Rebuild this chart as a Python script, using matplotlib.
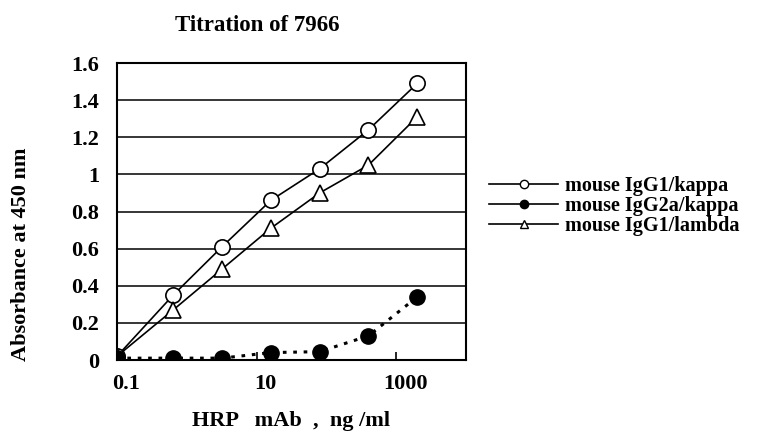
import matplotlib.pyplot as plt
from matplotlib.lines import Line2D
from matplotlib.transforms import ScaledTranslation

# concentrations (ng/ml), 5-fold dilutions
conc = [0.1, 0.64, 3.2, 16, 80, 400, 2000]
igg1_kappa = [0.02, 0.35, 0.61, 0.86, 1.03, 1.24, 1.49]
igg2a_kappa = [0.01, 0.01, 0.01, 0.04, 0.045, 0.13, 0.34]
igg1_lambda = [0.02, 0.27, 0.49, 0.71, 0.90, 1.05, 1.31]
labels = ["mouse IgG1/kappa", "mouse IgG2a/kappa", "mouse IgG1/lambda"]

plt.rcParams['font.family'] = ['Liberation Serif', 'DejaVu Serif']
plt.rcParams['font.weight'] = 'bold'

fig = plt.figure(figsize=(7.67, 4.37), dpi=100)
ax = fig.add_axes([0.1525, 0.1762, 0.4551, 0.6796])

ax.plot(conc, igg1_kappa, color="black", lw=1.2, marker="o", ms=11,
        mfc="white", mec="black", mew=1.2, zorder=3)
ax.plot(conc, igg1_lambda, color="black", lw=1.2, marker="^", ms=11,
        mfc="white", mec="black", mew=1.2, zorder=3)
ax.plot(conc, igg2a_kappa, color="black", lw=2.2, ls=(0, (1.2, 2.2)),
        marker="o", ms=11, mfc="black", mec="black", zorder=3)

ax.set_xscale("log")
ax.set_xlim(0.1, 10000)
ax.set_ylim(0, 1.6)
ax.set_yticks([0, 0.2, 0.4, 0.6, 0.8, 1, 1.2, 1.4, 1.6])
ax.set_yticklabels(["0", "0.2", "0.4", "0.6", "0.8", "1", "1.2", "1.4", "1.6"])
ax.set_xticks([0.1, 10, 1000])
ax.set_xticklabels(["0.1", "10", "1000"])
ax.minorticks_off()
ax.tick_params(axis="y", length=0, pad=13, labelsize=16)
ax.tick_params(axis="x", direction="in", length=6, width=1.2, pad=10, labelsize=16)
shift = ScaledTranslation(9 / 100, 0, fig.dpi_scale_trans)
for lab in ax.get_xticklabels():
    lab.set_transform(lab.get_transform() + shift)
ax.yaxis.grid(True, color="black", lw=1.1)
ax.set_axisbelow(True)
for s in ax.spines.values():
    s.set_linewidth(1.5)

ax.set_xlabel("HRP   mAb  ,  ng /ml", fontsize=16, fontweight="bold", labelpad=12)
fig.text(21 / 767, 1 - 254 / 437, "Absorbance at 450 nm", rotation=90,
         ha="center", va="center", fontsize=16, fontweight="bold")
fig.text(0.336, 0.942, "Titration of 7966", ha="center", va="center",
         fontsize=16.5, fontweight="bold")

handles = [
    Line2D([], [], color="black", lw=1.2, marker="o", ms=6, mfc="white", mec="black"),
    Line2D([], [], color="black", lw=1.2, marker="o", ms=6, mfc="black", mec="black"),
    Line2D([], [], color="black", lw=1.2, marker="^", ms=6, mfc="white", mec="black"),
]
fig.legend(handles, labels, loc="center left", bbox_to_anchor=(0.625, 0.528),
           frameon=False, fontsize=14.5, handlelength=3.4, handletextpad=0.35,
           labelspacing=0.0, borderpad=0)

fig.savefig("out.png", dpi=100)
